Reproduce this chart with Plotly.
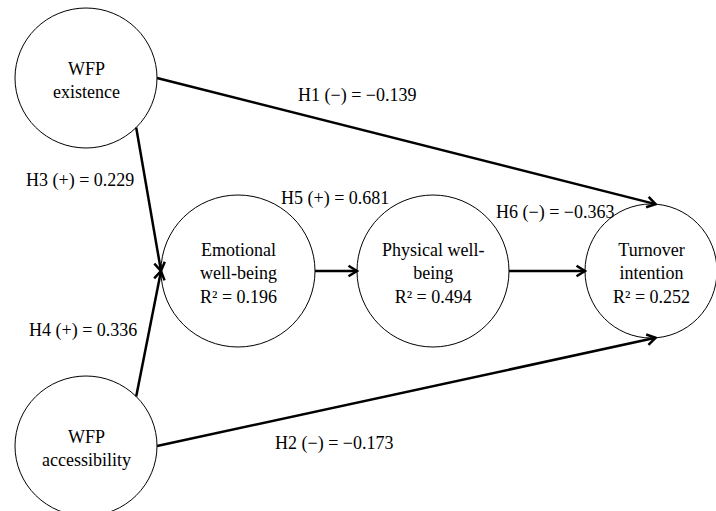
import math
import plotly.graph_objects as go

# ---- data ----
node_names = ["WFP<br>existence", "WFP<br>accessibility", "Emotional<br>well-being",
              "Physical well-<br>being", "Turnover<br>intention"]
node_r2 = [None, None, 0.196, 0.494, 0.252]

hypotheses = ["H1", "H2", "H3", "H4", "H5", "H6"]
hyp_signs = ["−", "−", "+", "+", "+", "−"]
path_coefs = [-0.139, -0.173, 0.229, 0.336, 0.681, -0.363]
path_from = [0, 1, 0, 1, 2, 3]
path_to = [4, 4, 2, 2, 3, 4]

# ---- layout (pixel space) ----
node_cx = [86, 86, 238, 433, 651]
node_cy = [78, 446, 271, 271, 271]
node_rx = [71, 71, 77, 76, 66]
node_ry = [70, 70, 76, 76, 67]
# connection angles (degrees, 0 = right, 90 = down)
from_ang = [0, 0, 45, -45, 0, 0]
to_ang = [-86, 86, 180, 180, 180, 180]
label_xy = [(357, 95), (334, 443), (80, 180), (83, 330), (335, 198), (555, 212)]

FONT = "Liberation Serif"
W, H = 716, 511


def pt(i, ang):
    a = math.radians(ang)
    return node_cx[i] + node_rx[i] * math.cos(a), node_cy[i] + node_ry[i] * math.sin(a)


fig = go.Figure()
shapes = []
annotations = []

for i, name in enumerate(node_names):
    shapes.append(dict(type="circle", xref="x", yref="y",
                       x0=node_cx[i] - node_rx[i], x1=node_cx[i] + node_rx[i],
                       y0=node_cy[i] - node_ry[i], y1=node_cy[i] + node_ry[i],
                       line=dict(color="black", width=1), fillcolor="white", layer="below"))
    txt = name if node_r2[i] is None else f"{name}<br>R² = {node_r2[i]:.3f}"
    annotations.append(dict(x=node_cx[i], y=node_cy[i] + 2, xref="x", yref="y", text=txt,
                            showarrow=False, font=dict(family=FONT, size=18, color="black"),
                            align="center"))

for k in range(len(hypotheses)):
    x0, y0 = pt(path_from[k], from_ang[k])
    x1, y1 = pt(path_to[k], to_ang[k])
    shapes.append(dict(type="line", xref="x", yref="y", x0=x0, y0=y0, x1=x1, y1=y1,
                       line=dict(color="black", width=2.5)))
    # open V arrowhead
    ang = math.atan2(y1 - y0, x1 - x0)
    L, spread = 10, math.radians(32)
    ax1 = x1 - L * math.cos(ang - spread)
    ay1 = y1 - L * math.sin(ang - spread)
    ax2 = x1 - L * math.cos(ang + spread)
    ay2 = y1 - L * math.sin(ang + spread)
    shapes.append(dict(type="path", xref="x", yref="y",
                       path=f"M {ax1} {ay1} L {x1} {y1} L {ax2} {ay2}",
                       line=dict(color="black", width=2.5)))
    c = path_coefs[k]
    cs = f"−{abs(c):.3f}" if c < 0 else f"{c:.3f}"
    lx, ly = label_xy[k]
    annotations.append(dict(x=lx, y=ly, xref="x", yref="y",
                            text=f"{hypotheses[k]} ({hyp_signs[k]}) = {cs}",
                            showarrow=False, font=dict(family=FONT, size=18, color="black")))

fig.update_layout(
    width=W, height=H, margin=dict(l=0, r=0, t=0, b=0),
    paper_bgcolor="white", plot_bgcolor="white",
    xaxis=dict(range=[0, W], visible=False, fixedrange=True),
    yaxis=dict(range=[H, 0], visible=False, fixedrange=True),
    shapes=shapes, annotations=annotations, showlegend=False,
)
fig.write_html("out.html", config={"displayModeBar": False},
               post_script="document.body.style.margin='0';")
